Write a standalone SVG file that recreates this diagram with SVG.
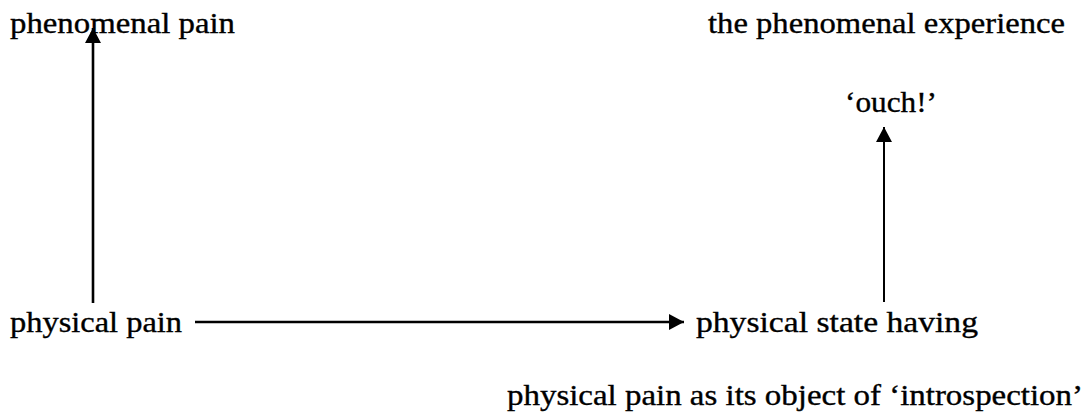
<svg xmlns="http://www.w3.org/2000/svg" width="1089" height="419" viewBox="0 0 1089 419">
<style>
text{font-family:"Liberation Serif","Times New Roman",serif;font-size:29px;fill:#000;stroke:#000;stroke-width:0.35}
.c{stroke:#000;fill:none}
</style>
<defs>
<marker id="ah" viewBox="0 0 15 16" refX="15" refY="8" markerWidth="15" markerHeight="16" markerUnits="userSpaceOnUse" orient="auto">
<path d="M0,0 L15,8 L0,16 Z" fill="#000"/>
</marker>
</defs>
<rect width="1089" height="419" fill="#fff"/>
<g id="connectors">
<line class="c" x1="93" y1="303" x2="93" y2="28" stroke-width="2.6" marker-end="url(#ah)"/>
<line class="c" x1="195" y1="322" x2="684" y2="322" stroke-width="2.6" marker-end="url(#ah)"/>
<line class="c" x1="884" y1="302" x2="884" y2="127" stroke-width="2" marker-end="url(#ah)"/>
</g>
<g id="phenomenal-pain"><text x="10" y="33" textLength="225" lengthAdjust="spacingAndGlyphs">phenomenal pain</text></g>
<g id="phenomenal-experience"><text x="708" y="33" textLength="357" lengthAdjust="spacingAndGlyphs">the phenomenal experience</text></g>
<g id="ouch"><text x="845" y="112" textLength="92" lengthAdjust="spacingAndGlyphs">‘ouch!’</text></g>
<g id="physical-pain"><text x="10" y="332" textLength="172" lengthAdjust="spacingAndGlyphs">physical pain</text></g>
<g id="physical-state"><text x="696" y="332" textLength="282" lengthAdjust="spacingAndGlyphs">physical state having</text>
<text x="507" y="405" textLength="576" lengthAdjust="spacingAndGlyphs">physical pain as its object of ‘introspection’</text></g>
</svg>
